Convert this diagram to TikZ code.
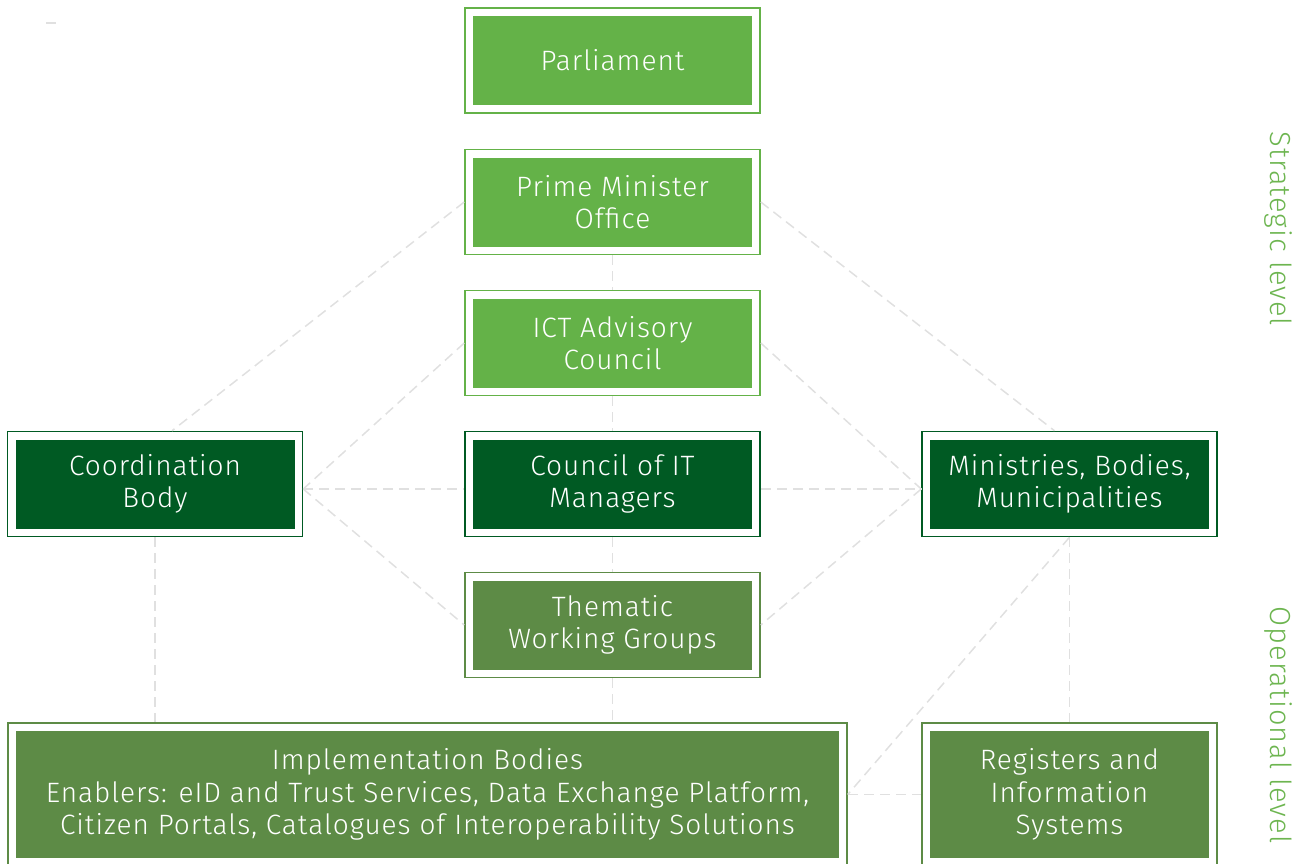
\documentclass[tikz,border=0pt]{standalone}
\usepackage{fontspec}
\setmainfont{Fira Sans}[UprightFont={* Light},LetterSpace=3.5]
\definecolor{lightgreen}{RGB}{100,178,72}
\definecolor{darkgreen}{RGB}{0,90,35}
\definecolor{midgreen}{RGB}{93,139,70}
\definecolor{levelgreen}{RGB}{109,181,80}
\definecolor{linkgray}{RGB}{224,224,224}
\tikzset{
  unit/.style={draw=#1,line width=1.5pt,minimum width=295pt,minimum height=105pt,
    path picture={\fill[#1] ([xshift=8pt,yshift=8pt]path picture bounding box.south west)
      rectangle ([xshift=-8pt,yshift=-8pt]path picture bounding box.north east);}},
  link/.style={draw=linkgray,line width=1.5pt,dash pattern=on 10pt off 6pt}
}
\begin{document}
\begin{tikzpicture}[x=1pt,y=-1pt]
\tikzstyle{every node}+=[inner sep=0pt,align=center,text=white,font=\fontsize{28}{32.5}\selectfont]
\tikzstyle{level}=[text=levelgreen,font=\fontsize{29}{32}\selectfont]
\useasboundingbox (0,0) rectangle (1306,863);
% boxes
\node [unit=lightgreen] (parl) at (612.5,60.5) {Parliament};
\node [unit=lightgreen] (pmo) at (612.5,202) {Prime Minister\\Office};
\node [unit=lightgreen] (ict) at (612.5,343) {ICT Advisory\\Council};
\node [unit=darkgreen] (cit) at (612.5,484) {Council of IT\\Managers};
\node [unit=midgreen] (twg) at (612.5,625) {Thematic\\Working Groups};
\node [unit=darkgreen] (coord) at (155,484) {Coordination\\Body};
\node [unit=darkgreen] (min) at (1069.5,484) {Ministries, Bodies,\\Municipalities};
\node [unit=midgreen,minimum width=839pt,minimum height=143pt] (impl) at (427.5,794.5)
  {Implementation Bodies\\Enablers: eID and Trust Services, Data Exchange Platform,\\Citizen Portals, Catalogues of Interoperability Solutions};
\node [unit=midgreen,minimum height=143pt] (reg) at (1069.5,794.5) {Registers and\\Information\\Systems};
% levels
\node [level,rotate=-90] (strat) at (1278,229) {Strategic level};
\node [level,rotate=-90] (oper) at (1278,725) {Operational level};
% links
\draw [link] (pmo.west) -- ([xshift=17pt]coord.north);
\draw [link] (pmo.east) -- ([xshift=-15pt]min.north);
\draw [link] (pmo.south) -- (ict.north);
\draw [link] (ict.south) -- (cit.north);
\draw [link] (cit.south) -- (twg.north);
\draw [link] (ict.west) -- ([yshift=-5pt]coord.east);
\draw [link] (ict.east) -- ([yshift=-5pt]min.west);
\draw [link] ([yshift=-5pt]coord.east) -- ([yshift=-5pt]cit.west);
\draw [link] ([yshift=-5pt]cit.east) -- ([yshift=-5pt]min.west);
\draw [link] ([yshift=-5pt]coord.east) -- (twg.west);
\draw [link] ([yshift=-5pt]min.west) -- (twg.east);
\draw [link] (twg.south) -- (twg.south |- impl.north);
\draw [link] (coord.south) -- (coord.south |- impl.north);
\draw [link] (min.south) -- (reg.north);
\draw [link] (min.south) -- (impl.east);
\draw [link] (impl.east) -- (reg.west);
\coordinate (stray) at (46,23);
\draw [link] (stray) -- ++(11,0);
\end{tikzpicture}
\end{document}
